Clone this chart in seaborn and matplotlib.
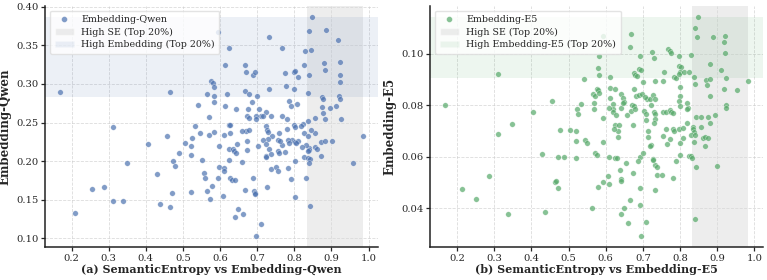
import numpy as np
import pandas as pd
import matplotlib
matplotlib.use("Agg")
import matplotlib.pyplot as plt
from matplotlib.ticker import MultipleLocator
from matplotlib.patches import Patch
from matplotlib.lines import Line2D
import seaborn as sns

# ---------------- data ----------------
qwen_pts = [
    (0.170,0.289),(0.464,0.289),(0.311,0.244),(0.595,0.367),(0.623,0.347),(0.613,0.324),(0.667,0.324),
    (0.731,0.361),(0.768,0.346),(0.576,0.304),(0.581,0.301),(0.583,0.296),(0.584,0.285),(0.584,0.277),
    (0.541,0.273),(0.565,0.287),(0.618,0.287),(0.614,0.272),(0.642,0.267),(0.666,0.291),(0.677,0.287),
    (0.669,0.316),(0.689,0.311),(0.693,0.316),(0.675,0.268),(0.700,0.284),(0.733,0.293),(0.776,0.314),
    (0.777,0.297),(0.799,0.316),(0.803,0.317),(0.811,0.309),(0.798,0.293),(0.785,0.278),(0.791,0.271),
    (0.808,0.274),(0.825,0.325),(0.830,0.343),(0.840,0.369),(0.848,0.387),(0.846,0.344),(0.841,0.311),
    (0.838,0.288),(0.886,0.370),(0.917,0.357),(0.881,0.327),(0.883,0.318),(0.923,0.328),(0.922,0.311),
    (0.923,0.303),(0.920,0.284),(0.924,0.280),(0.874,0.283),(0.878,0.281),(0.876,0.270),(0.896,0.269),
    (0.912,0.271),(0.878,0.262),(0.884,0.255),(0.857,0.256),(0.926,0.254),(0.837,0.252),(0.824,0.248),
    (0.819,0.246),(0.799,0.247),(0.801,0.244),(0.780,0.242),(0.781,0.254),(0.768,0.259),(0.738,0.259),
    (0.725,0.264),(0.706,0.268),(0.711,0.258),(0.696,0.259),(0.672,0.259),(0.677,0.256),(0.696,0.254),
    (0.686,0.276),(0.623,0.247),(0.628,0.247),(0.570,0.257),(0.532,0.246),(0.546,0.236),(0.569,0.234),
    (0.583,0.238),(0.626,0.237),(0.670,0.239),(0.677,0.240),(0.725,0.245),(0.727,0.240),(0.729,0.238),
    (0.856,0.237),(0.845,0.240),(0.827,0.237),(0.985,0.233),(0.458,0.233),(0.525,0.230),
    (0.717,0.259),(0.659,0.239),(0.759,0.237),(0.741,0.233),(0.838,0.233),(0.612,0.234),
    (0.210,0.133),(0.254,0.164),(0.288,0.166),(0.312,0.149),(0.340,0.148),(0.349,0.197),(0.405,0.222),
    (0.431,0.183),(0.437,0.144),(0.464,0.140),(0.471,0.159),(0.474,0.200),(0.478,0.194),(0.489,0.211),
    (0.505,0.223),(0.523,0.208),(0.523,0.219),(0.523,0.160),(0.551,0.201),(0.556,0.185),(0.560,0.178),
    (0.565,0.161),(0.573,0.151),(0.579,0.168),(0.594,0.178),(0.596,0.219),(0.597,0.192),(0.611,0.191),
    (0.611,0.187),(0.609,0.155),(0.623,0.201),(0.623,0.216),(0.634,0.216),(0.637,0.213),(0.643,0.211),
    (0.647,0.222),(0.628,0.178),(0.632,0.176),(0.641,0.176),(0.660,0.199),(0.641,0.128),(0.649,0.138),
    (0.662,0.131),(0.667,0.163),(0.674,0.215),(0.688,0.178),(0.692,0.161),(0.694,0.159),(0.694,0.157),
    (0.703,0.220),(0.710,0.118),(0.697,0.103),(0.724,0.207),(0.727,0.166),(0.733,0.216),(0.738,0.190),
    (0.738,0.209),(0.752,0.193),(0.757,0.187),(0.757,0.213),(0.774,0.212),(0.767,0.221),(0.783,0.191),
    (0.791,0.177),(0.803,0.200),(0.803,0.153),(0.832,0.178),(0.826,0.205),(0.837,0.204),(0.843,0.203),
    (0.840,0.197),(0.843,0.142),(0.840,0.217),(0.840,0.215),(0.831,0.221),(0.857,0.218),(0.872,0.207),
    (0.871,0.225),(0.884,0.226),(0.901,0.226),(0.957,0.197),(0.794,0.227),(0.802,0.225),(0.810,0.226),
    (0.730,0.229),(0.673,0.226),(0.715,0.228),(0.725,0.222),(0.757,0.228),(0.762,0.226),(0.784,0.228),
    (0.786,0.223),(0.820,0.218),(0.838,0.213),(0.860,0.216),(0.804,0.224),(0.759,0.211),(0.723,0.206),
]
e5_pts = [
    (0.169,0.0800),(0.311,0.0921),(0.404,0.0775),(0.456,0.0817),(0.523,0.0785),(0.526,0.0765),(0.533,0.0806),
    (0.541,0.0903),(0.566,0.0843),(0.570,0.0837),(0.568,0.0808),(0.568,0.0785),(0.576,0.0865),(0.580,0.0860),
    (0.581,0.0849),(0.579,0.0946),(0.582,0.0917),(0.594,0.0750),(0.594,0.1070),(0.581,0.0990),(0.611,0.0910),
    (0.612,0.0867),(0.625,0.0864),(0.611,0.0827),(0.620,0.0804),(0.619,0.0785),(0.620,0.0775),(0.629,0.0764),
    (0.640,0.0843),(0.646,0.0830),(0.648,0.0814),(0.657,0.0763),(0.668,0.0778),(0.640,0.0790),(0.667,0.1076),
    (0.666,0.1027),(0.692,0.0991),(0.676,0.0924),(0.680,0.0919),(0.684,0.0914),(0.689,0.0940),(0.695,0.0937),
    (0.676,0.0862),(0.682,0.0836),(0.689,0.0841),(0.697,0.0843),(0.672,0.0800),(0.675,0.0798),(0.678,0.0785),
    (0.700,0.0890),(0.704,0.0778),(0.711,0.0826),(0.718,0.0826),(0.722,0.0800),(0.726,0.0841),(0.725,0.1006),
    (0.730,0.0984),(0.732,0.0894),(0.731,0.0772),(0.733,0.0765),(0.734,0.0746),(0.756,0.0929),(0.754,0.0894),
    (0.754,0.0774),(0.761,0.0774),(0.772,0.0780),(0.767,0.1017),(0.773,0.1010),(0.775,0.1004),(0.777,0.0774),
    (0.781,0.0771),(0.798,0.0991),(0.785,0.0911),(0.790,0.0907),(0.796,0.0952),(0.802,0.0950),(0.799,0.0929),
    (0.798,0.0920),(0.800,0.0872),(0.799,0.0836),(0.796,0.0817),(0.799,0.0797),(0.810,0.0929),(0.823,0.0929),
    (0.818,0.0810),(0.821,0.0791),(0.818,0.0785),(0.829,0.0994),(0.838,0.0910),(0.839,0.0881),(0.848,0.1143),
    (0.841,0.1100),(0.845,0.1066),(0.888,0.1066),(0.922,0.1068),(0.917,0.1046),(0.920,0.1001),(0.880,0.0961),
    (0.910,0.0938),(0.923,0.0907),(0.871,0.0898),(0.882,0.0903),(0.873,0.0879),(0.882,0.0836),(0.983,0.0893),
    (0.953,0.0859),(0.919,0.0862),(0.923,0.0803),(0.925,0.0791),(0.842,0.0756),(0.857,0.0756),(0.876,0.0756),
    (0.894,0.0761),(0.707,0.0833),(0.734,0.0823),(0.647,0.0810),(0.609,0.0790),(0.709,0.0765),
    (0.347,0.0726),(0.311,0.0688),(0.213,0.0477),(0.251,0.0436),(0.286,0.0525),(0.338,0.0378),(0.429,0.0610),
    (0.436,0.0385),(0.463,0.0502),(0.478,0.0704),(0.503,0.0703),(0.521,0.0699),(0.544,0.0665),(0.550,0.0655),
    (0.521,0.0660),(0.472,0.0600),(0.488,0.0600),(0.521,0.0597),(0.594,0.0657),(0.571,0.0616),(0.578,0.0606),
    (0.609,0.0598),(0.626,0.0597),(0.630,0.0597),(0.626,0.0722),(0.636,0.0722),(0.634,0.0699),(0.634,0.0678),
    (0.623,0.0709),(0.673,0.0722),(0.655,0.0575),(0.638,0.0548),(0.641,0.0513),(0.642,0.0505),(0.606,0.0526),
    (0.609,0.0493),(0.592,0.0502),(0.579,0.0484),(0.673,0.0539),(0.467,0.0506),(0.471,0.0478),(0.563,0.0403),
    (0.666,0.0433),(0.649,0.0403),(0.642,0.0377),(0.661,0.0342),(0.692,0.0600),(0.700,0.0614),(0.687,0.0584),
    (0.692,0.0481),(0.692,0.0412),(0.708,0.0347),(0.696,0.0293),(0.709,0.0743),(0.730,0.0730),(0.713,0.0702),
    (0.714,0.0678),(0.723,0.0647),(0.720,0.0642),(0.727,0.0593),(0.734,0.0568),(0.734,0.0471),
    (0.761,0.0709),(0.782,0.0707),(0.784,0.0700),(0.796,0.0707),(0.808,0.0712),(0.818,0.0730),(0.835,0.0717),
    (0.836,0.0707),(0.838,0.0696),(0.856,0.0714),(0.881,0.0730),(0.755,0.0681),(0.772,0.0668),(0.764,0.0650),
    (0.808,0.0674),(0.800,0.0655),(0.829,0.0683),(0.840,0.0683),(0.838,0.0657),(0.862,0.0672),(0.868,0.0678),
    (0.874,0.0672),(0.868,0.0642),(0.739,0.0529),(0.752,0.0529),(0.782,0.0517),(0.789,0.0584),(0.801,0.0606),
    (0.824,0.0603),(0.830,0.0603),(0.832,0.0595),(0.842,0.0562),(0.900,0.0564),(0.841,0.0358),(0.738,0.0561),
    (0.726,0.0587),
]
qwen_se = [p[0] for p in qwen_pts]
qwen_emb = [p[1] for p in qwen_pts]
e5_se = [p[0] for p in e5_pts]
e5_emb = [p[1] for p in e5_pts]

# top-20% thresholds
qwen_se_thr, qwen_emb_thr = 0.835, 0.2835
e5_se_thr, e5_emb_thr = 0.833, 0.0907

panels = [
    dict(se=qwen_se, emb=qwen_emb, se_thr=qwen_se_thr, emb_thr=qwen_emb_thr,
         name="Embedding-Qwen", color="#4C72B0",
         hi_label="High Embedding (Top 20%)",
         xlabel="(a) SemanticEntropy vs Embedding-Qwen", ystep=0.05),
    dict(se=e5_se, emb=e5_emb, se_thr=e5_se_thr, emb_thr=e5_emb_thr,
         name="Embedding-E5", color="#55A868",
         hi_label="High Embedding-E5 (Top 20%)",
         xlabel="(b) SemanticEntropy vs Embedding-E5", ystep=0.02),
]

# ---------------- style ----------------
sns.set_style("ticks")
plt.rcParams["font.family"] = ["DejaVu Serif"]
plt.rcParams["axes.edgecolor"] = "#222222"
plt.rcParams["axes.linewidth"] = 1.1

fig, axes = plt.subplots(1, 2, figsize=(7.67, 2.8), dpi=100)
fig.subplots_adjust(left=0.059, right=0.995, bottom=0.118, top=0.979, wspace=0.157)

for ax, p in zip(axes, panels):
    df = pd.DataFrame({"se": p["se"], "emb": p["emb"]})
    sns.scatterplot(data=df, x="se", y="emb", ax=ax, color=p["color"], s=16,
                    alpha=0.7, edgecolor="white", linewidth=0.3, zorder=3)
    ax.axvspan(p["se_thr"], max(p["se"]), color="#d9d9d9", alpha=0.45, zorder=1, lw=0)
    ax.axhspan(p["emb_thr"], max(p["emb"]), color=p["color"], alpha=0.1, zorder=1, lw=0)
    ax.xaxis.set_major_locator(MultipleLocator(0.1))
    ax.yaxis.set_major_locator(MultipleLocator(p["ystep"]))
    ax.grid(True, linestyle="--", linewidth=0.6, color="#cccccc", alpha=0.7, zorder=0)
    ax.set_axisbelow(True)
    ax.tick_params(labelsize=7.2, length=3, width=0.9, pad=2)
    ax.set_xlabel(p["xlabel"], fontsize=8, fontweight="bold", labelpad=1)
    ax.set_ylabel(p["name"], fontsize=8.5, fontweight="bold", labelpad=3)
    sns.despine(ax=ax)
    handles = [
        Line2D([0], [0], marker="o", linestyle="", markerfacecolor=p["color"],
               markeredgecolor="white", markeredgewidth=0.3, alpha=0.7, markersize=4.2),
        Patch(facecolor="#d9d9d9", alpha=0.45),
        Patch(facecolor=p["color"], alpha=0.1),
    ]
    ax.legend(handles, [p["name"], "High SE (Top 20%)", p["hi_label"]],
              loc="upper left", fontsize=6.8, framealpha=0.8, edgecolor="#dddddd",
              borderpad=0.5, handlelength=2.0, labelspacing=0.35)

fig.savefig("out.png", dpi=100)
